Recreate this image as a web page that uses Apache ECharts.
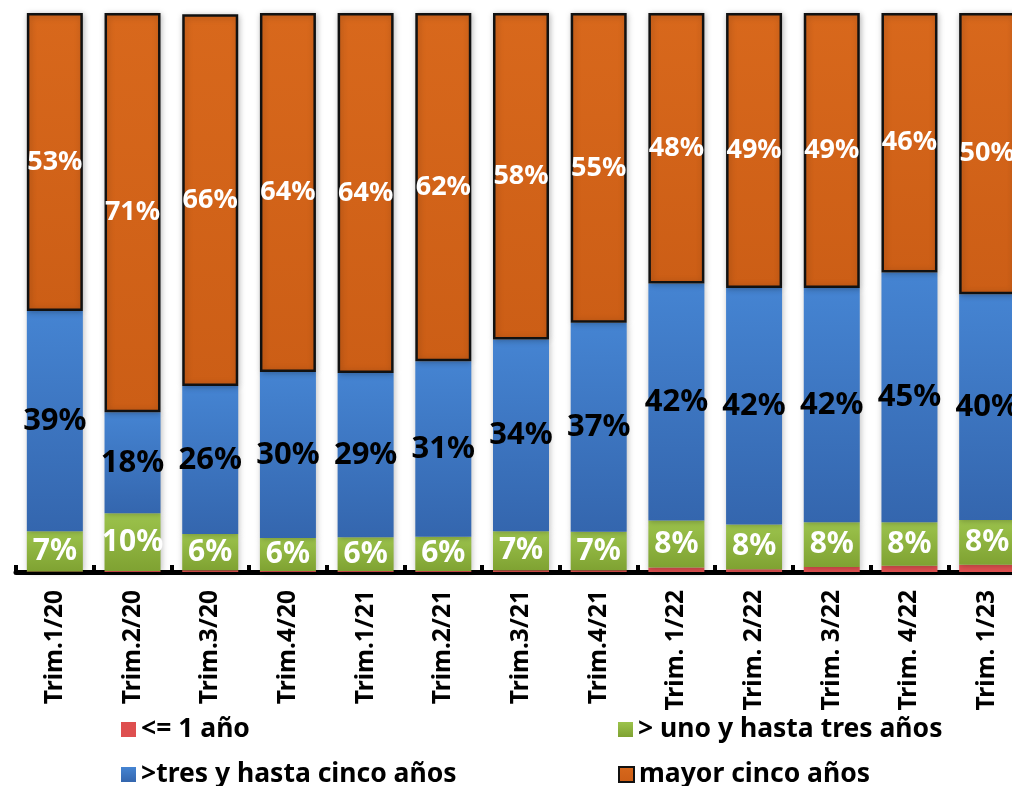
<!DOCTYPE html>
<html>
<head>
<meta charset="utf-8">
<script src="https://cdn.jsdelivr.net/npm/echarts@6/dist/echarts.min.js"></script>
<style>
  html, body { margin: 0; padding: 0; background: #fff; overflow: hidden; }
  /* the last bar is cut by the right edge, so the chart is wider than the window */
  #plazos { width: 1040px; height: 786px; }
</style>
</head>
<body>
<div id="plazos"></div>
<script>
// trimestres
var categories = ["Trim.1/20", "Trim.2/20", "Trim.3/20", "Trim.4/20", "Trim.1/21", "Trim.2/21",
  "Trim.3/21", "Trim.4/21", "Trim. 1/22", "Trim. 2/22", "Trim. 3/22", "Trim. 4/22", "Trim. 1/23"];

// % de cada plazo
var hastaUno = [0.1, 0.2, 0.3, 0.2, 0.2, 0.2, 0.3, 0.3, 0.8, 0.5, 0.9, 1.1, 1.3];
var unoATres = [7.2, 10.3, 6.49, 5.9, 6.0, 6.1, 7.0, 6.9, 8.4, 8.0, 8.0, 7.8, 8.0];
var tresACinco = [39.4, 18.1, 26.49, 29.7, 29.4, 31.4, 34.3, 37.4, 42.4, 42.3, 41.9, 44.7, 40.4];
var mayorCinco = [53.3, 71.4, 66.49, 64.2, 64.4, 62.3, 58.4, 55.4, 48.4, 49.2, 49.2, 46.4, 50.3];

var names = ["<= 1 año", "> uno y hasta tres años", ">tres y hasta cinco años", "mayor cinco años"];

var chart = echarts.init(document.getElementById("plazos"));

var fontFam = "'Noto Sans', 'DejaVu Sans', sans-serif";

function pct(p) {
  return Math.round(p.value) + "%";
}

// degradado vertical tipo bisel de Excel
function grad(top, bottom) {
  return new echarts.graphic.LinearGradient(0, 0, 0, 1, [
    { offset: 0, color: top },
    { offset: 1, color: bottom }
  ]);
}

var shadow = {
  shadowBlur: 6,
  shadowColor: "rgba(0,0,0,0.25)",
  shadowOffsetX: 1,
  shadowOffsetY: 1
};

function legendItem(name, left, top) {
  return {
    data: [name],
    left: left,
    top: top,
    selectedMode: false,
    icon: "rect",
    itemWidth: 15,
    itemHeight: 15,
    textStyle: { color: "#000", fontSize: 26.5, fontWeight: "bold", fontFamily: fontFam }
  };
}

var option = {
  animation: false,
  textStyle: { fontFamily: fontFam },
  legend: [
    legendItem(names[0], 116, 711),
    legendItem(names[1], 613, 711),
    legendItem(names[2], 116, 756),
    legendItem(names[3], 613, 756)
  ],
  grid: { left: 16, top: 13, width: 1010, height: 559, containLabel: false },
  xAxis: {
    type: "category",
    data: categories,
    axisLine: { show: true, lineStyle: { color: "#000", width: 5 } },
    axisTick: { show: true, inside: true, length: 7, lineStyle: { color: "#000", width: 4 } },
    axisLabel: {
      rotate: 90,
      margin: 18,
      interval: 0,
      color: "#000",
      fontSize: 24.5,
      fontWeight: "bold",
      fontFamily: fontFam
    }
  },
  yAxis: {
    type: "value",
    min: 0,
    max: 100,
    show: false,
    splitLine: { show: false }
  },
  series: [
    {
      name: names[0],
      type: "bar",
      stack: "total",
      barWidth: 56,
      data: hastaUno,
      itemStyle: Object.assign({ color: "#DE4F4F" }, shadow),
      label: { show: false }
    },
    {
      name: names[1],
      type: "bar",
      stack: "total",
      barWidth: 56,
      data: unoATres,
      itemStyle: Object.assign({ color: grad("#9CC34C", "#7FA232") }, shadow),
      label: {
        show: true,
        position: "inside",
        formatter: pct,
        color: "#fff",
        fontSize: 30,
        fontWeight: "bold",
        fontFamily: fontFam
      }
    },
    {
      name: names[2],
      type: "bar",
      stack: "total",
      barWidth: 56,
      data: tresACinco,
      itemStyle: Object.assign({ color: grad("#4584D2", "#3466AE") }, shadow),
      label: {
        show: true,
        position: "inside",
        formatter: pct,
        color: "#000",
        fontSize: 31,
        fontWeight: "bold",
        fontFamily: fontFam
      }
    },
    {
      name: names[3],
      type: "bar",
      stack: "total",
      barWidth: 56,
      data: mayorCinco,
      itemStyle: Object.assign({ color: grad("#D8681C", "#CC5E16"), borderColor: "#111", borderWidth: 2.5 }, shadow),
      label: {
        show: true,
        position: "inside",
        formatter: pct,
        color: "#fff",
        fontSize: 27,
        fontWeight: "bold",
        fontFamily: fontFam
      }
    }
  ]
};

chart.setOption(option);
</script>
</body>
</html>
